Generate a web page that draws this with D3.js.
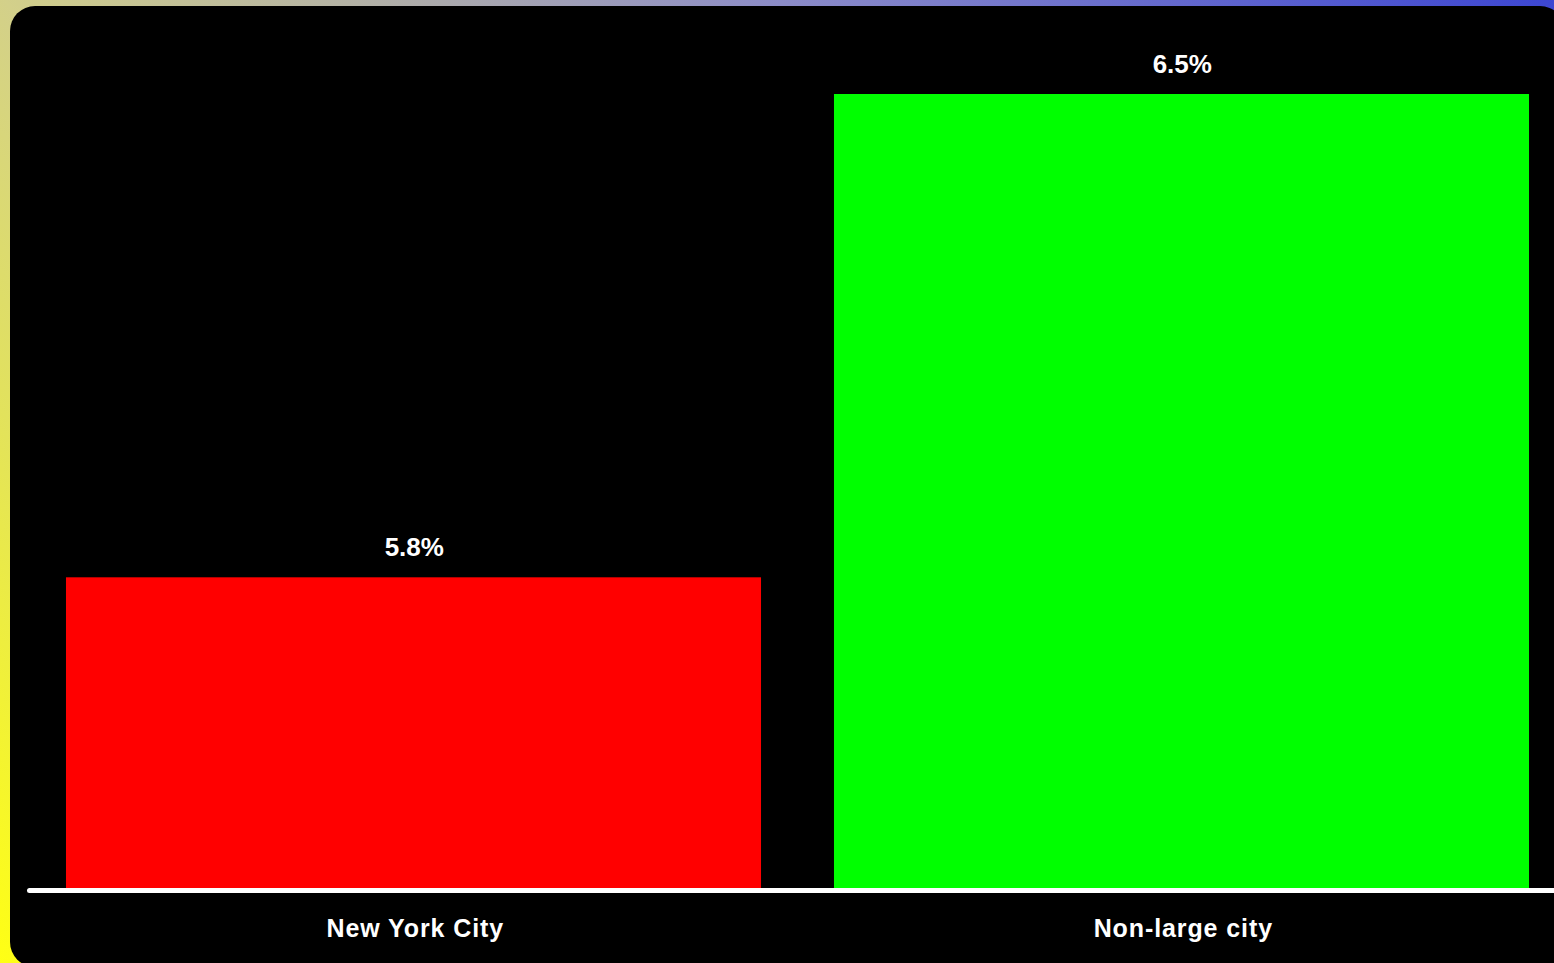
<!DOCTYPE html>
<html>
<head>
<meta charset="utf-8">
<script src="https://cdn.jsdelivr.net/npm/d3@7"></script>
<style>
  html, body { margin: 0; padding: 0; overflow: hidden; }
  svg { display: block; }
  text { font-family: "Liberation Sans", Arial, sans-serif; font-weight: bold; fill: #ffffff; }
</style>
</head>
<body>
<script>
// Chart data
const categories = ["New York City", "Non-large city"];
const values = [5.8, 6.5];
const barColors = ["#ff0000", "#00ff00"];
const valueLabels = ["5.8%", "6.5%"];
const yDomain = [5.35, 6.5];

const W = 1554, H = 963;
const svg = d3.select("body").append("svg").attr("width", W).attr("height", H);

// Page background: diagonal yellow-to-blue gradient
const defs = svg.append("defs");
const grad = defs.append("linearGradient")
  .attr("id", "bg")
  .attr("gradientUnits", "userSpaceOnUse")
  .attr("x1", 0).attr("y1", H).attr("x2", W).attr("y2", 0);
[[0, "#ffff14"], [0.16, "#e2e25c"], [0.28, "#d3d08a"], [0.64, "#8c8cc8"], [1, "#3c46d2"]]
  .forEach(([o, c]) => grad.append("stop").attr("offset", o).attr("stop-color", c));
svg.append("rect").attr("width", W).attr("height", H).attr("fill", "url(#bg)");

// Black rounded panel
svg.append("rect")
  .attr("x", 10).attr("y", 6)
  .attr("width", 1555).attr("height", 961)
  .attr("rx", 25).attr("ry", 25)
  .attr("fill", "#000000");

const baseY = 888;
const x = d3.scaleBand()
  .domain(categories)
  .range([29.5, 1565.5])
  .paddingInner(0.095)
  .paddingOuter(0.0475);
const y = d3.scaleLinear().domain(yDomain).range([baseY, 94]);

// Bars
svg.append("g").selectAll("rect")
  .data(categories)
  .join("rect")
  .attr("x", d => x(d))
  .attr("y", (d, i) => y(values[i]))
  .attr("width", x.bandwidth())
  .attr("height", (d, i) => baseY - y(values[i]))
  .attr("fill", (d, i) => barColors[i]);

// Value labels above bars
svg.append("g").selectAll("text")
  .data(categories)
  .join("text")
  .attr("x", d => x(d) + x.bandwidth() / 2)
  .attr("y", (d, i) => y(values[i]) - 21)
  .attr("dx", 0.8)
  .attr("text-anchor", "middle")
  .style("font-size", "26px")
  .text((d, i) => valueLabels[i]);

// Baseline
svg.append("line")
  .attr("x1", x.range()[0]).attr("x2", x.range()[1])
  .attr("y1", baseY + 2.5).attr("y2", baseY + 2.5)
  .attr("stroke", "#ffffff")
  .attr("stroke-width", 5)
  .attr("stroke-linecap", "round");

// Category axis labels
svg.append("g").selectAll("text")
  .data(categories)
  .join("text")
  .attr("x", d => x(d) + x.bandwidth() / 2)
  .attr("y", 937)
  .attr("dx", 1.8)
  .attr("text-anchor", "middle")
  .style("font-size", "25px")
  .style("letter-spacing", "0.9px")
  .text(d => d);
</script>
</body>
</html>
